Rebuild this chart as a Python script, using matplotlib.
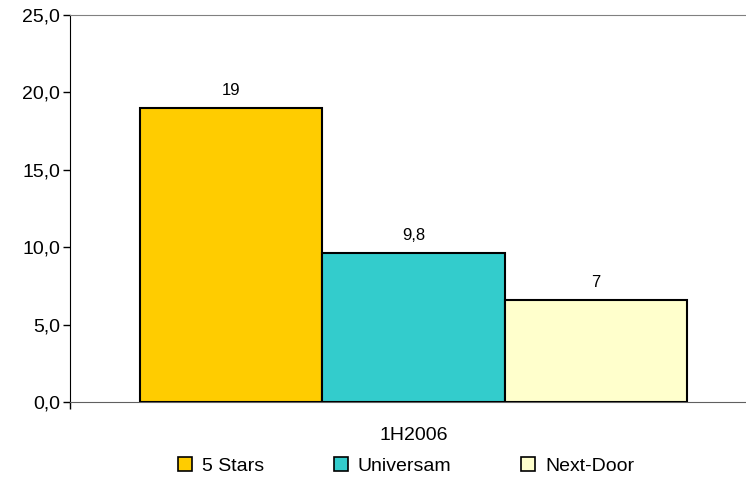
import matplotlib
matplotlib.use("Agg")
import matplotlib.pyplot as plt
from matplotlib.ticker import FuncFormatter, MultipleLocator
from matplotlib.patches import Patch

plt.rcParams['font.family'] = ['Liberation Sans', 'DejaVu Sans']

# Data
series = ['5 Stars', 'Universam', 'Next-Door']
values = [19.0, 9.65, 6.6]
value_labels = ['19', '9,8', '7']
category = '1H2006'
colors = ['#ffcc00', '#33cccc', '#ffffcc']

fig = plt.figure(figsize=(7.46, 4.8), dpi=100)
ax = fig.add_axes([70 / 746, 78 / 480, 687 / 746, 387 / 480])

xs = range(len(values))
bars = ax.bar(xs, values, width=1.0, color=colors, edgecolor='black', linewidth=1.5, zorder=3)

# value labels above bars
for b, lab in zip(bars, value_labels):
    ax.text(b.get_x() + b.get_width() / 2, b.get_height() + 0.65, lab,
            ha='center', va='bottom', fontsize=12)

ax.set_ylim(0, 25)
ax.set_xlim(-0.885, 2.885)
ax.yaxis.set_major_locator(MultipleLocator(5))
ax.yaxis.set_major_formatter(FuncFormatter(lambda v, p: f'{v:.1f}'.replace('.', ',')))
ax.tick_params(axis='y', direction='out', length=5, width=1, labelsize=14, color='black', pad=2)

ax.set_xticks([1])
ax.set_xticklabels([category])
ax.set_xticks([-0.885], minor=True)
ax.tick_params(axis='x', which='major', length=0, labelsize=14, pad=18)
ax.tick_params(axis='x', which='minor', length=5, width=1, color='black')

ax.spines['left'].set_color('black')
ax.spines['top'].set_color('#808080')
ax.spines['bottom'].set_color('#606060')
ax.spines['right'].set_visible(False)

handles = [Patch(facecolor=c, edgecolor='black', linewidth=1.2) for c in colors]
fig.legend(handles, series, loc='center', bbox_to_anchor=(406 / 746, 1 - 466 / 480),
           ncol=3, frameon=False, fontsize=14, handlelength=0.72, handleheight=0.72,
           handletextpad=0.5, columnspacing=3.6)

fig.savefig('out.png', dpi=100)
